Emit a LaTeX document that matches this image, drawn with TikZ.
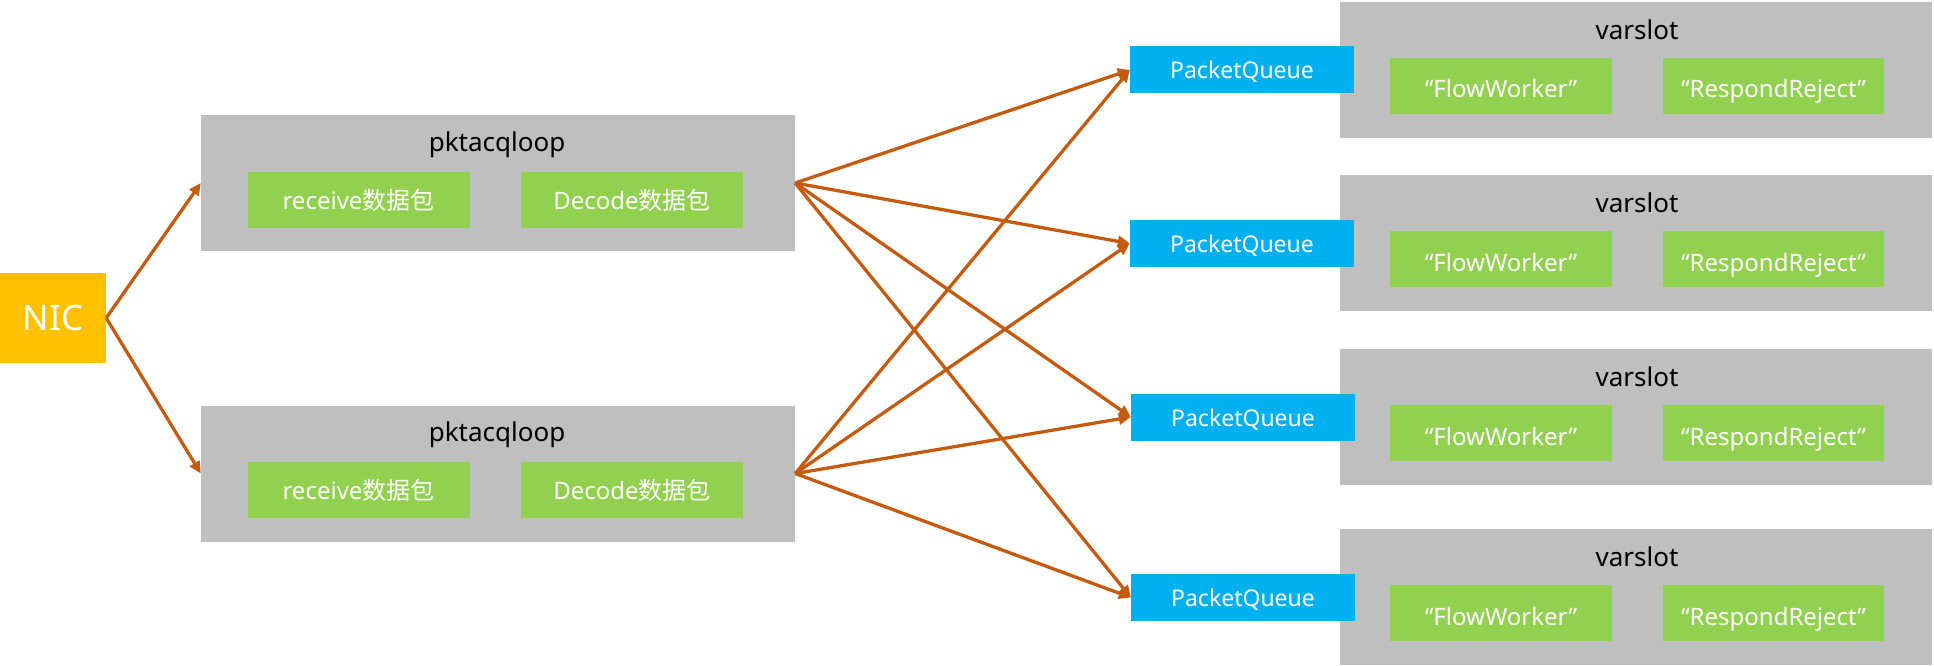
\documentclass[tikz,border=0pt]{standalone}
\usepackage{fontspec}
\setmainfont{Noto Sans}
\newfontfamily\cjk{Noto Sans CJK SC}
\usetikzlibrary{arrows.meta}
\definecolor{grayc}{HTML}{BFBFBF}
\definecolor{greenc}{HTML}{92D050}
\definecolor{bluec}{HTML}{00B0F0}
\definecolor{nicc}{HTML}{FFC000}
\definecolor{arrowc}{HTML}{C55A11}
\tikzset{
  grp/.style={fill=grayc, draw=none, inner sep=0pt, minimum width=594pt, minimum height=136pt},
  grn/.style={fill=greenc, draw=none, text=white, inner sep=0pt, minimum width=222pt, minimum height=56pt, font=\fontsize{24}{28}\selectfont},
  vsgrn/.style={grn, text height=24pt, text depth=0pt},
  pq/.style={fill=bluec, draw=none, text=white, inner sep=0pt, minimum width=224pt, minimum height=47pt, text height=21pt, text depth=3pt, font=\fontsize{23}{27}\selectfont},
  nicbox/.style={fill=nicc, draw=none, text=white, inner sep=0pt, minimum width=106pt, minimum height=90pt, font=\fontsize{35}{40}\selectfont},
  ttl/.style={text=black, inner sep=0pt, font=\fontsize{26}{30}\selectfont},
  arr/.style={draw=arrowc, line width=3.3pt, -{Triangle[length=12pt,width=11pt]}}
}
\begin{document}
\begin{tikzpicture}[x=1pt,y=-1pt]
\useasboundingbox (0,0) rectangle (1934,666);
% NIC
\node[nicbox] (nic) at (53,318) {NIC};
% pktacqloop groups
\node[grp] (pk1) at (498,183) {};
\node[ttl] (pk1t) at (497,145) {pktacqloop};
\node[grn] (pk1r) at (358.5,200) {receive{\cjk 数据包}};
\node[grn] (pk1d) at (632,200) {Decode{\cjk 数据包}};
\node[grp] (pk2) at (498,473.5) {};
\node[ttl] (pk2t) at (497,435) {pktacqloop};
\node[grn] (pk2r) at (358.5,490) {receive{\cjk 数据包}};
\node[grn] (pk2d) at (632,490) {Decode{\cjk 数据包}};
% varslots
\foreach \i/\yc in {1/70,2/243,3/417,4/597}{
  \node[grp, minimum width=592pt] (vs\i) at (1636,\yc) {};
  \node[ttl] (vs\i t) at (1637,\yc-40) {varslot};
  \node[vsgrn] (vs\i f) at (1501,\yc+16) {“FlowWorker”};
  \node[vsgrn, minimum width=221pt] (vs\i r) at (1773.5,\yc+16) {“RespondReject”};
}
% packet queues
\node[pq] (pq1) at (1242,70) {PacketQueue};
\node[pq] (pq2) at (1242,243.5) {PacketQueue};
\node[pq] (pq3) at (1243,417) {PacketQueue};
\node[pq] (pq4) at (1243,597.5) {PacketQueue};
% arrows
\draw[arr] (nic.east) -- (pk1.west);
\draw[arr] (nic.east) -- (pk2.west);
\foreach \q in {1,2,3,4}{
  \draw[arr] (pk1.east) -- (pq\q.west);
  \draw[arr] (pk2.east) -- (pq\q.west);
}
\end{tikzpicture}
\end{document}
